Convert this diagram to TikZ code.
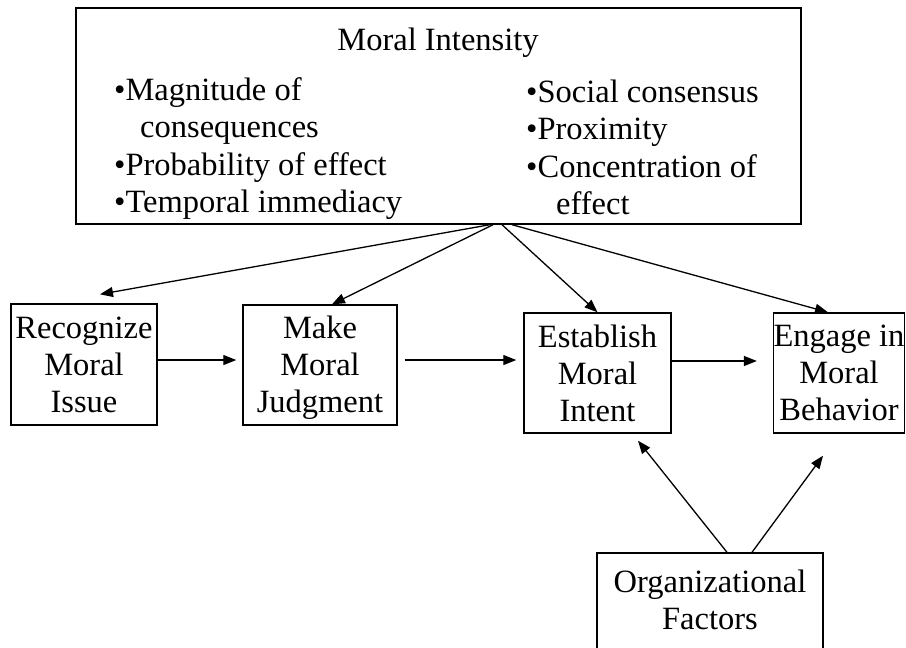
\documentclass[tikz,border=0pt]{standalone}
\usepackage{fontspec}
\setmainfont{Liberation Serif}
\usetikzlibrary{arrows.meta}
\tikzset{
  box/.style={draw=black, line width=1.4pt, rectangle, inner sep=0pt, align=center,
    font=\fontsize{32.5}{37}\selectfont},
  txt/.style={inner sep=0pt, anchor=base west, font=\fontsize{32.5}{37}\selectfont},
  arr/.style={line width=1.3pt, -{Triangle[length=13pt,width=10pt]}},
}
\begin{document}
\begin{tikzpicture}[x=1pt,y=-1pt]
\useasboundingbox[fill=white] (0,0) rectangle (906,648);
% top box
\node[box, minimum width=725, minimum height=216] (mi) at (438.5,116) {};
\node[txt, anchor=base] (t0) at (438,50) {Moral Intensity};
\node[txt] (l1) at (114,100) {•Magnitude of};
\node[txt] (l2) at (140,137) {consequences};
\node[txt] (l3) at (114,175) {•Probability of effect};
\node[txt] (l4) at (114,212) {•Temporal immediacy};
\node[txt] (r1) at (526,102) {•Social consensus};
\node[txt] (r2) at (526,139) {•Proximity};
\node[txt] (r3) at (526,177) {•Concentration of};
\node[txt] (r4) at (556,214) {effect};
% process boxes
\node[box, minimum width=146, minimum height=121] (rec) at (84,364.5) {Recognize\\Moral\\Issue};
\node[box, minimum width=154, minimum height=120, text depth=2pt] (mk) at (320,365) {Make\\Moral\\Judgment};
\node[box, minimum width=147, minimum height=120] (est) at (597.5,373) {Establish\\Moral\\Intent};
\node[box, minimum width=130, minimum height=120] (eng) at (839,373) {Engage in\\Moral\\Behavior};
\node[box, minimum width=226, minimum height=106, text depth=12pt] (org) at (710,606) {Organizational\\Factors};
% arrows from moral intensity
\draw[arr] ([xshift=51.5pt]mi.south) -- ([xshift=16pt,yshift=9pt]rec.north);
\draw[arr] ([xshift=54.5pt]mi.south) -- ([xshift=12pt]mk.north);
\draw[arr] ([xshift=63.5pt]mi.south) -- ([xshift=0pt]est.north);
\draw[arr] ([xshift=73.5pt]mi.south) -- ([xshift=-11pt]eng.north);
% horizontal chain
\draw[arr] ([yshift=4.5pt]rec.east) -- ([xshift=-6pt,yshift=5pt]mk.west);
\draw[arr] ([xshift=7pt,yshift=5pt]mk.east) -- ([xshift=-7pt,yshift=13pt]est.west);
\draw[arr] ([yshift=12pt]est.east) -- ([xshift=-16pt,yshift=12pt]eng.west);
% organizational factors
\draw[arr] ([xshift=17pt]org.north) -- ([xshift=40.5pt,yshift=-7pt]est.south);
\draw[arr] ([xshift=42pt]org.north) -- ([xshift=-16pt,yshift=-22pt]eng.south);
\end{tikzpicture}
\end{document}
